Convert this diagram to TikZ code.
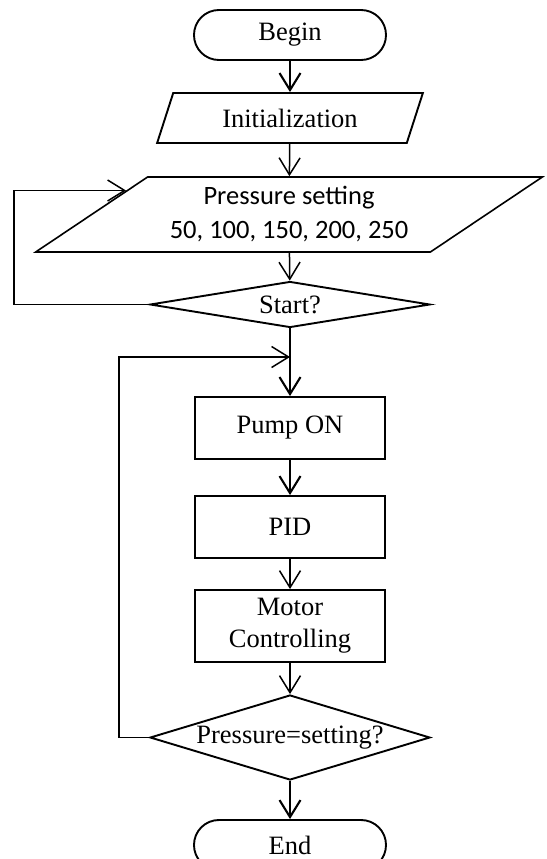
\documentclass[tikz,border=0pt]{standalone}
\usepackage{fontspec}
\setmainfont{Liberation Serif}
\newfontfamily\calib{Carlito}
\usetikzlibrary{shapes.geometric,arrows.meta,calc}
\begin{document}
\begin{tikzpicture}[x=1pt,y=-1pt,
 base/.style={draw,line width=1.9pt,font=\fontsize{26.5}{32}\selectfont,align=center,inner sep=0pt},
 term/.style={base,rectangle,rounded corners=24.9pt,minimum width=192pt,minimum height=50pt},
 procbox/.style={base,rectangle,minimum width=190pt,minimum height=62pt},
 iobox/.style={base,trapezium,trapezium stretches=true},
 decide/.style={base,diamond,minimum width=280pt},
 flow/.style={-{Straight Barb[length=17pt,width=21pt]},line width=1.5pt},
 flowthick/.style={flow,line width=2.1pt}]
\useasboundingbox (0,0) rectangle (546,859);

\node[term] (begin) at (290,35) {Begin};
\node[iobox,trapezium left angle=63.43,trapezium right angle=116.57,
      minimum width=266pt,minimum height=50pt] (init) at (290,118) {Initialization};
\node[iobox,line width=1.6pt,trapezium left angle=30.56,trapezium right angle=149.44,
      minimum width=508pt,minimum height=75pt,
      font=\calib\fontsize{26.5}{34}\selectfont] (press) at (289,214.5) {\raisebox{-3pt}{Pressure setting}\\\raisebox{-3pt}{50, 100, 150, 200, 250}};
\node[decide,minimum height=46pt,aspect=6] (start) at (290,304.5) {Start?};
\node[procbox] (pump) at (290,428) {Pump ON};
\node[procbox] (pid) at (290,527) {PID};
\node[procbox,minimum height=72pt] (motor) at (290,626) {Motor\\Controlling};
\node[decide,minimum height=85pt,aspect=3.3] (check) at (290,737.5) {Pressure=setting?};
\node[term] (end) at (290,845) {End};

\coordinate (pbl) at (press.bottom left corner);
\coordinate (ptl) at (press.top left corner);
\coordinate (fb) at ($(pbl)!0.8133!(ptl)$);
\coordinate (j) at (290,357);

\draw[flowthick] (begin) -- (init);
\draw[flow] (init) -- (press);
\draw[flow] (press) -- (start);
\draw[flowthick] (start) -- (pump);
\draw[flowthick] (pump) -- (pid);
\draw[flow] (pid) -- (motor);
\draw[flow] (motor) -- (check);
\draw[flowthick] (check) -- (end);
\draw[flow] (start.west) -- ++(-135,0) |- (fb);
\draw[flow] (check.west) -- ++(-30,0) |- (j);
\end{tikzpicture}
\end{document}
